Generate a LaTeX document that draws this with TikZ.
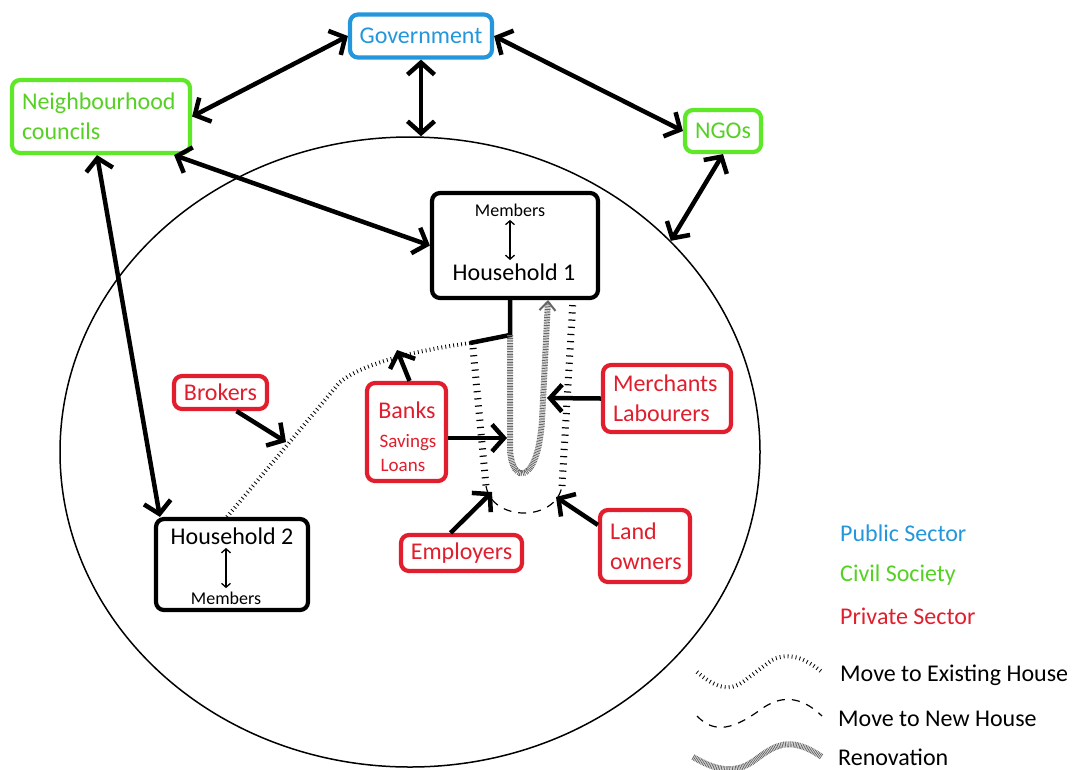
\documentclass[tikz,border=0pt]{standalone}
\usepackage{fontspec}
\setmainfont{Carlito}
\usetikzlibrary{arrows.meta,shapes.geometric}
\definecolor{pubblue}{RGB}{35,150,220}
\definecolor{civgreen}{RGB}{95,232,40}
\definecolor{privred}{RGB}{225,30,45}
\newcommand{\bigtext}{\fontsize{24}{30}\selectfont}
\newcommand{\midtext}{\fontsize{19}{22}\selectfont}
\newcommand{\smalltext}{\fontsize{18}{22}\selectfont}
\tikzset{
	box/.style={draw, rounded corners=8pt, line width=4.2pt, fill=white, inner sep=0pt, font=\bigtext},
	pubbox/.style={box, draw=pubblue, text=pubblue},
	civbox/.style={box, draw=civgreen, text=civgreen!90!black},
	privbox/.style={box, draw=privred, text=privred},
	hhbox/.style={box, draw=black},
	legend/.style={anchor=base west, inner sep=0pt, font=\bigtext},
	link/.style={line width=4.5pt, {Straight Barb[length=12pt,width=27pt]}-{Straight Barb[length=12pt,width=27pt]}},
	push/.style={line width=4.5pt, -{Straight Barb[length=12pt,width=27pt]}},
	memlink/.style={line width=1.3pt, {Straight Barb[length=4pt,width=9pt]}-{Straight Barb[length=4pt,width=9pt]}},
	existing/.style={line width=4pt, dash pattern=on 0.8pt off 3.2pt},
	newrungs/.style={line width=7pt, dash pattern=on 1.2pt off 6pt},
	newdash/.style={line width=1.2pt, dash pattern=on 8pt off 7pt},
	renov/.style={line width=6pt, draw=black!60, dash pattern=on 0.8pt off 0.8pt},
}

\begin{document}
\begin{tikzpicture}[x=1pt, y=-1pt]
			%%%%% START %%%%%
			\useasboundingbox (0,0) rectangle (1078,769);
			
			\node[draw, ellipse, line width=1.5pt, minimum width=700pt, minimum height=630pt] (area) at (410,452) {};
			
			\coordinate (joint) at (510,335);
			\coordinate (brkpt) at (286,442);
			\coordinate (bnkpt) at (397,350);
			\coordinate (renpt) at (507,438);
			\coordinate (merpt) at (547,398);
			\coordinate (emppt) at (492,492);
			\coordinate (lndpt) at (556,497);
			
			\node[pubbox, minimum width=142pt, minimum height=43pt] (gov) at (421,36) {Government};
			\node[civbox, minimum width=178pt, minimum height=73pt, text width=158pt, align=left] (nbc) at (101,116.5) {Neighbourhood\\councils};
			\node[civbox, minimum width=76pt, minimum height=42pt] (ngo) at (723,131) {NGOs};
			
			\node[hhbox, minimum width=166pt, minimum height=105pt] (hh1) at (515,245.5) {};
			\node[hhbox, minimum width=152pt, minimum height=91pt] (hh2) at (232,564.5) {};
			
			\draw[existing] ([xshift=-5pt]hh2.north) -- (340,382) .. controls (365,362) and (420,350) .. (470,343);
			\draw[line width=4.5pt] (470,343) -- (joint) -- (joint |- hh1.south);
			\draw[newrungs] (473,348) -- (486,486);
			\draw[newrungs] (562,486) -- (573,300);
			\draw[newdash] (486,486) .. controls (492,522) and (556,522) .. (562,486);
			\draw[renov, -{Straight Barb[length=9pt,width=16pt,line width=2pt]}] (joint) -- (510,450) .. controls (512,485) and (538,485) .. (542,420) -- (548,300);
			
			\node[font=\smalltext] (hh1mem) at (510,210) {Members};
			\node[font=\bigtext] (hh1name) at (514,272) {Household 1};
			\draw[memlink] (hh1mem.south) -- (hh1mem.south |- hh1name.north);
			
			\node[font=\bigtext] (hh2name) at (232,536) {Household 2};
			\node[font=\smalltext] (hh2mem) at (226,598) {Members};
			\draw[memlink] (hh2mem.north) -- (hh2mem.north |- hh2name.south);
			
			\node[privbox, minimum width=93pt, minimum height=33pt] (brokers) at (220.5,392.5) {Brokers};
			\node[privbox, minimum width=79pt, minimum height=98pt] (banks) at (406.5,432) {};
			\node[font=\bigtext, text=privred] (bankname) at (407,410) {Banks};
			\node[font=\midtext, text=privred] (savings) at (408,443) {Savings};
			\node[font=\midtext, text=privred] (loans) at (403,465) {Loans};
			\node[privbox, minimum width=128pt, minimum height=67pt, text width=108pt, align=left] (merch) at (667,398.5) {Merchants\\Labourers};
			\node[privbox, minimum width=121pt, minimum height=36pt] (employ) at (461.5,553) {Employers};
			\node[privbox, minimum width=90pt, minimum height=72pt, text width=70pt, align=left] (landown) at (645,546) {Land\\owners};
			
			\draw[link] (nbc.east) -- (gov.west);
			\draw[link] (gov.east) -- (ngo.west);
			\draw[link] (gov.south) -- (gov.south |- area.north);
			\draw[link] (ngo.south) -- (area.39);
			\draw[link] ([xshift=-18pt]nbc.south east) -- (hh1.west);
			\draw[link] ([xshift=-4pt]nbc.south) -- ([xshift=6pt]hh2.north west);
			
			\draw[push] ([xshift=16pt]brokers.south) -- (brkpt);
			\draw[push] ([xshift=3pt]banks.north) -- (bnkpt);
			\draw[push] (banks.east |- renpt) -- (renpt);
			\draw[push] (merch.west) -- (merpt);
			\draw[push] ([xshift=-11pt]employ.north) -- (emppt);
			\draw[push] ([yshift=-17pt]landown.north west) -- (lndpt);
			
			\node[legend, text=pubblue] (leg1) at (840,541) {Public Sector};
			\node[legend, text=civgreen!90!black] (leg2) at (840,581) {Civil Society};
			\node[legend, text=privred] (leg3) at (840,624) {Private Sector};
			
			\draw[existing] (697,672) .. controls (718,690) and (732,692) .. (748,678) -- (772,660) .. controls (792,650) and (810,662) .. (823,673);
			\node[legend] (leg4) at (840,681) {Move to Existing House};
			\draw[newdash] (697,716) .. controls (715,735) and (735,728) .. (760,710) .. controls (780,695) and (800,695) .. (822,716);
			\node[legend] (leg5) at (838,726) {Move to New House};
			\draw[renov] (693,757) .. controls (715,770) and (735,775) .. (755,760) .. controls (775,745) and (790,735) .. (822,757);
			\node[legend] (leg6) at (838,765) {Renovation};
			
			%%%%% END %%%%%
\end{tikzpicture}
\end{document}
